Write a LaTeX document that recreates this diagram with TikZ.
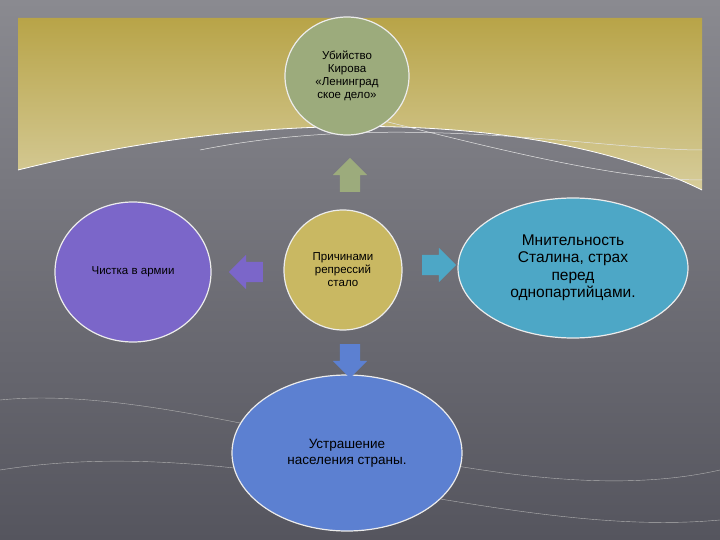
\documentclass[tikz,border=0pt]{standalone}
\usepackage{fontspec}
\setmainfont{Liberation Sans}
\usetikzlibrary{shapes.arrows,shapes.geometric}
\definecolor{bgtop}{HTML}{8A8A90}
\definecolor{bgbot}{HTML}{55555E}
\definecolor{gold1}{HTML}{B8A448}
\definecolor{gold2}{HTML}{D6CC9A}
\definecolor{cgreen}{HTML}{9CAB7C}
\definecolor{ckhaki}{HTML}{C9B862}
\definecolor{cpurple}{HTML}{7B66C9}
\definecolor{cteal}{HTML}{4DA7C6}
\definecolor{cblue}{HTML}{5C80D1}
\tikzset{
 circ/.style={ellipse,draw=white!85!gray,line width=1.2pt,align=center,inner sep=0pt,font=\fontsize{11.5}{13}\selectfont},
 barrow/.style={single arrow,draw=none,minimum height=34pt,single arrow head extend=7pt,inner sep=0pt}
}
\newcommand{\shaft}{\rule{0pt}{20pt}}
\newcommand{\vshaft}{\rule{20pt}{0pt}}
\begin{document}
\begin{tikzpicture}[x=1pt,y=-1pt]
\useasboundingbox (0,0) rectangle (720,540);
\shade[top color=bgtop,bottom color=bgbot] (0,0) rectangle (720,540);
\shade[top color=gold1,bottom color=gold2] (18,18) -- (702,18) -- (702,190) .. controls (560,120) and (300,100) .. (18,170) -- cycle;
\draw[white,line width=0.8pt] (18,170) .. controls (300,100) and (560,120) .. (702,190);
\draw[white!80!gray,line width=0.5pt] (200,150) .. controls (400,110) and (600,150) .. (702,150);
\draw[white!80!gray,line width=0.5pt] (380,120) .. controls (500,150) and (620,180) .. (702,180);
\draw[gray!60,line width=0.4pt] (0,400) .. controls (200,380) and (500,520) .. (720,470);
\draw[gray!60,line width=0.4pt] (0,470) .. controls (250,430) and (500,540) .. (720,520);
\node[circ,fill=cgreen,minimum width=124pt,minimum height=118pt] (kirov) at (347,76) {Убийство\\Кирова\\«Ленинград\\ское дело»};
\node[circ,fill=ckhaki,minimum width=118pt,minimum height=120pt] (cause) at (343,270) {Причинами\\репрессий\\стало};
\node[circ,fill=cpurple,minimum width=156pt,minimum height=140pt] (army) at (133,272) {Чистка в армии};
\node[circ,fill=cteal,minimum width=230pt,minimum height=140pt,font=\fontsize{15.5}{17.5}\selectfont] (stalin) at (573,268) {Мнительность\\Сталина, страх\\перед\\однопартийцами.};
\node[circ,fill=cblue,minimum width=230pt,minimum height=156pt,font=\fontsize{13.5}{16}\selectfont] (fear) at (347,453) {Устрашение\\населения страны.};
\node[barrow,fill=cgreen,shape border rotate=90] (a1) at (350,180) {\vshaft};
\node[barrow,fill=cpurple,shape border rotate=180] (a2) at (251,272) {\shaft};
\node[barrow,fill=cteal,shape border rotate=0] (a3) at (434,265) {\shaft};
\node[barrow,fill=cblue,shape border rotate=270] (a4) at (350,356) {\vshaft};
\end{tikzpicture}
\end{document}
